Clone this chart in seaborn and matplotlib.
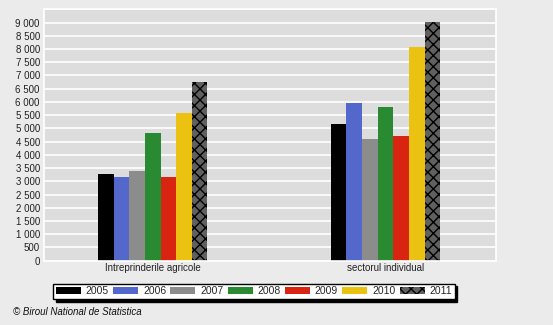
import matplotlib
matplotlib.use("Agg")
import matplotlib.pyplot as plt
import seaborn as sns
import pandas as pd
from matplotlib.ticker import FuncFormatter, MultipleLocator

categories = ["Intreprinderile agricole", "sectorul individual"]
years = ["2005", "2006", "2007", "2008", "2009", "2010", "2011"]
values_agricole = [3270, 3160, 3390, 4820, 3160, 5580, 6750]
values_individual = [5160, 5950, 4590, 5800, 4710, 8070, 9010]
colors = ["#000000", "#5468cc", "#8c8c8c", "#2a8a32", "#d82410", "#ecc212", "#606060"]

rows = []
for cat, vals in zip(categories, [values_agricole, values_individual]):
    for yr, v in zip(years, vals):
        rows.append({"categorie": cat, "an": yr, "valoare": v})
df = pd.DataFrame(rows)

sns.set_style("white")
plt.rcParams["font.family"] = ["Liberation Sans", "DejaVu Sans"]
plt.rcParams["hatch.linewidth"] = 1.0

fig = plt.figure(figsize=(5.53, 3.25), dpi=100, facecolor="#ebebeb")
ax = fig.add_axes([44 / 553, 1 - 260.7 / 325, 452 / 553, 251.4 / 325])
ax.set_facecolor("#dddddd")

sns.barplot(data=df, x="categorie", y="valoare", hue="an", hue_order=years,
            palette=colors, width=0.47, gap=0, saturation=1, ax=ax,
            edgecolor="none", linewidth=0, legend=False)

# Cross-hatched bars for the last year
for p in ax.containers[-1]:
    p.set_hatch("xxx")
    p.set_edgecolor("#000000")
    p.set_linewidth(0)

ax.set_xlim(-0.467, 1.475)
ax.set_ylim(0, 9500)
ax.yaxis.set_major_locator(MultipleLocator(500))
ax.yaxis.set_major_formatter(FuncFormatter(
    lambda v, _: "" if v > 9000 else f"{int(v):,}".replace(",", " ")))
ax.grid(axis="y", color="white", linewidth=1.2)
ax.set_axisbelow(True)
for s in ax.spines.values():
    s.set_color("white")
    s.set_linewidth(1.2)
ax.tick_params(axis="both", length=0, labelsize=7, colors="#222222", pad=3)
ax.tick_params(axis="x", pad=1.5)
ax.set_xlabel("")
ax.set_ylabel("")

handles = []
for c, yr in zip(colors, years):
    h = matplotlib.patches.Patch(facecolor=c, edgecolor="#000000" if yr == "2011" else c,
                                 hatch="xxx" if yr == "2011" else None,
                                 linewidth=0, label=yr)
    handles.append(h)
leg = fig.legend(handles=handles, loc="center", bbox_to_anchor=(254 / 553, 1 - 291.3 / 325),
                 ncol=7, frameon=True, fontsize=7.5, handlelength=2.4, handleheight=0.75,
                 handletextpad=0.45, columnspacing=0.42, borderpad=0.25,
                 fancybox=False, shadow={"color": "black", "alpha": 1.0},
                 edgecolor="black")
leg.get_frame().set_linewidth(1.0)

fig.text(13 / 553, 1 - 312 / 325, "© Biroul National de Statistica", fontsize=7,
         style="italic", color="#111111", va="center", ha="left")

fig.savefig("out.png", dpi=100, facecolor=fig.get_facecolor())
